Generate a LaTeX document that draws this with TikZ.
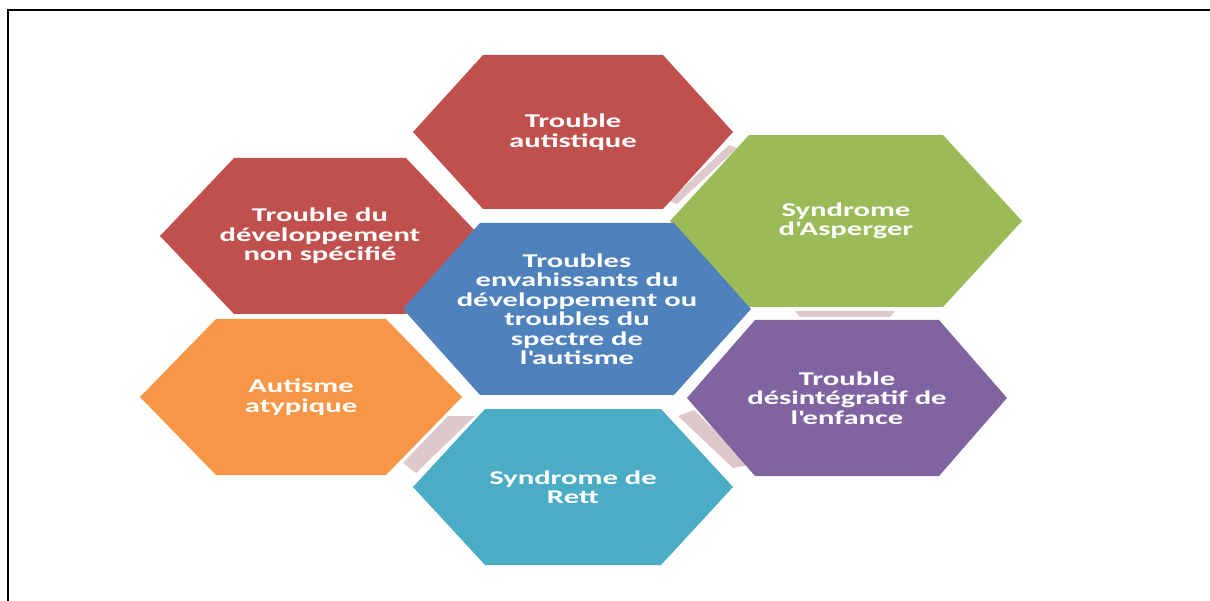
\documentclass[tikz,border=0pt]{standalone}
\usepackage{fontspec}
\newfontfamily\hexfont[FakeStretch=1.57]{Carlito}
\usetikzlibrary{calc}

\definecolor{hexred}{HTML}{C0504D}
\definecolor{hexgreen}{HTML}{9BBB59}
\definecolor{hexblue}{HTML}{4F81BD}
\definecolor{hexorange}{HTML}{F79646}
\definecolor{hexpurple}{HTML}{8064A2}
\definecolor{hexcyan}{HTML}{4BACC6}
\definecolor{gapbar}{HTML}{DEC8CB}

\begin{document}
\begin{tikzpicture}[x=1pt,y=-1pt,inner sep=0pt,
  hextext/.style={text=white,align=center,font=\hexfont\bfseries\fontsize{19.5}{19.5}\selectfont}]
\def\hexa#1#2#3#4#5{%
  \fill[#5] ($(#1)+(-#2,0)$) -- ($(#1)+(-#3,-#4)$) -- ($(#1)+(#3,-#4)$)
    -- ($(#1)+(#2,0)$) -- ($(#1)+(#3,#4)$) -- ($(#1)+(-#3,#4)$) -- cycle;}
\useasboundingbox (0,0) rectangle (1210,601);
\draw[line width=2.5pt] (8,601) -- (8,10) -- (1210,10);

% centres of the cells
\coordinate (c1) at (573,132);
\coordinate (c2) at (320,236);
\coordinate (c3) at (846,221);
\coordinate (c4) at (577,309);
\coordinate (c5) at (301,397);
\coordinate (c6) at (847,398);
\coordinate (c7) at (573,487);

% bars in the gaps
\fill[gapbar] (729,145) -- (737,148) -- (677,204) -- (669,201) -- cycle;
\fill[gapbar] (795,311) -- (895,311) -- (890,317) -- (800,317) -- cycle;
\fill[gapbar] (678,416) -- (694,410) -- (750,465) -- (733,468) -- cycle;
\fill[gapbar] (448,416) -- (475,416) -- (416,473) -- (403,463) -- cycle;

\hexa{c1}{160}{90}{77}{hexred}
\hexa{c2}{160}{86}{78}{hexred}
\hexa{c3}{176}{97}{86}{hexgreen}
\hexa{c4}{174}{97}{86}{hexblue}
\hexa{c5}{161}{85}{78}{hexorange}
\hexa{c6}{160}{92}{78}{hexpurple}
\hexa{c7}{160}{88}{78}{hexcyan}

\node[hextext] (tas) at (c1) {Trouble\\autistique};
\node[hextext] (tdn) at (c2) {Trouble du\\développement\\non spécifié};
\node[hextext] (sda) at (c3) {Syndrome\\d\textquotesingle Asperger};
\node[hextext] (ted) at (c4) {Troubles\\envahissants du\\développement ou\\troubles du\\spectre de\\l\textquotesingle autisme};
\node[hextext] (aat) at (c5) {Autisme\\atypique};
\node[hextext] (tde) at (c6) {Trouble\\désintégratif de\\l\textquotesingle enfance};
\node[hextext] (sdr) at (c7) {Syndrome de\\Rett};
\end{tikzpicture}
\end{document}
